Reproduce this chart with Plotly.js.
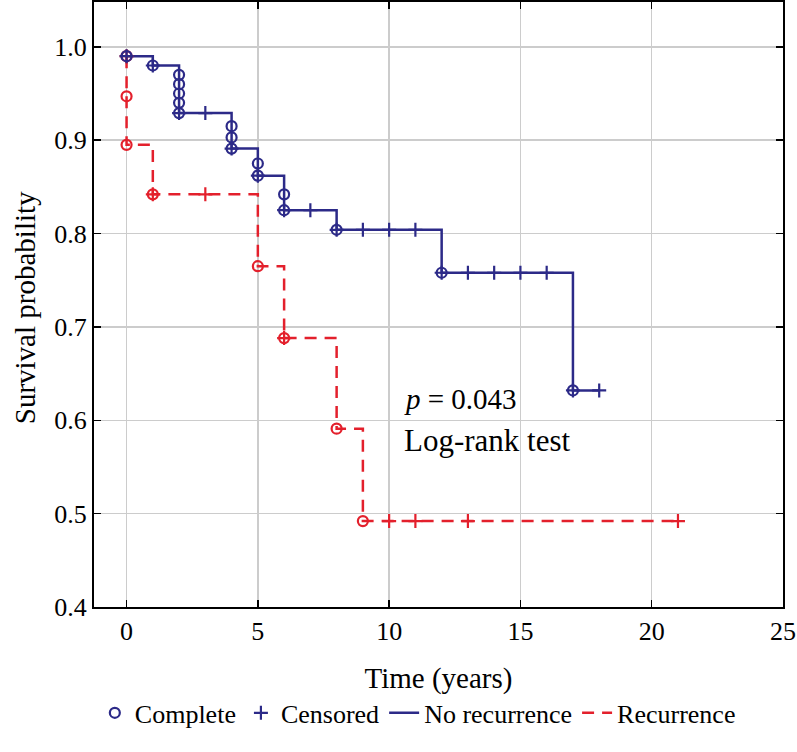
<!DOCTYPE html>
<html><head><meta charset="utf-8">
<script src="https://cdn.plot.ly/plotly-3.0.1.min.js"></script>
<style>body{margin:0;background:#fff}</style>
</head><body>
<div id="chart" style="width:797px;height:752px"></div>
<script>
// No recurrence (blue) step curve
const noRecStepT = [0, 1, 2, 4, 5, 6, 8, 12, 17, 18];
const noRecStepS = [0.990, 0.980, 0.929, 0.891, 0.862, 0.825, 0.804, 0.758, 0.632, 0.632];
// No recurrence complete events (circles)
const noRecEventT = [0, 1, 2, 2, 2, 2, 2, 4, 4, 4, 5, 5, 6, 6, 8, 12, 17];
const noRecEventS = [0.990, 0.980, 0.970, 0.960, 0.950, 0.940, 0.929, 0.915, 0.903, 0.891, 0.875, 0.862, 0.842, 0.825, 0.804, 0.758, 0.632];
// No recurrence plus marks
const noRecCensT = [0, 1, 2, 3, 4, 5, 6, 7, 8, 9, 10, 11, 12, 13, 14, 15, 16, 17, 18];
const noRecCensS = [0.990, 0.980, 0.929, 0.929, 0.891, 0.862, 0.825, 0.825, 0.804, 0.804, 0.804, 0.804, 0.758, 0.758, 0.758, 0.758, 0.758, 0.632, 0.632];

// Recurrence (red) step curve
const recStepT = [0, 0, 0, 1, 5, 6, 8, 9, 21];
const recStepS = [0.990, 0.947, 0.895, 0.842, 0.765, 0.688, 0.591, 0.492, 0.492];
// Recurrence complete events
const recEventT = [0, 0, 0, 1, 5, 6, 8, 9];
const recEventS = [0.990, 0.947, 0.895, 0.842, 0.765, 0.688, 0.591, 0.492];
// Recurrence plus marks
const recCensT = [0, 1, 3, 6, 10, 11, 13, 21];
const recCensS = [0.990, 0.842, 0.842, 0.688, 0.492, 0.492, 0.492, 0.492];

const xTicks = [0, 5, 10, 15, 20, 25];
const yTicks = [0.4, 0.5, 0.6, 0.7, 0.8, 0.9, 1.0];

const BLUE = '#2c2a88';
const RED = '#e3202c';
const FONT = '"Liberation Serif", "Times New Roman", serif';

const traces = [
  {x: recStepT, y: recStepS, mode: 'lines', line: {shape: 'hv', color: RED, width: 2.5, dash: '12px,8px'},
   name: 'Recurrence', legendrank: 4},
  {x: noRecStepT, y: noRecStepS, mode: 'lines', line: {shape: 'hv', color: BLUE, width: 2.5},
   name: 'No recurrence', legendrank: 3},
  {x: recEventT, y: recEventS, mode: 'markers', showlegend: false,
   marker: {symbol: 'circle-open', size: 10, color: RED, line: {width: 2.2, color: RED}}},
  {x: recCensT, y: recCensS, mode: 'markers', showlegend: false,
   marker: {symbol: 'cross-thin-open', size: 10, color: RED, line: {width: 2.2, color: RED}}},
  {x: noRecEventT, y: noRecEventS, mode: 'markers', name: 'Complete', legendrank: 1,
   marker: {symbol: 'circle-open', size: 10, color: BLUE, line: {width: 2.2, color: BLUE}}},
  {x: noRecCensT, y: noRecCensS, mode: 'markers', name: 'Censored', legendrank: 2,
   marker: {symbol: 'cross-thin-open', size: 10, color: BLUE, line: {width: 2.2, color: BLUE}}}
];

const axisCommon = {
  showline: true, linecolor: '#000', linewidth: 2, mirror: 'ticks',
  ticks: 'inside', ticklen: 7, tickwidth: 1.5, tickcolor: '#000',
  showgrid: true, gridcolor: '#cccccc', gridwidth: 1.5, zeroline: false,
  tickfont: {family: FONT, size: 26, color: '#000'}
};

const layout = {
  width: 797, height: 752,
  margin: {l: 94, r: 14, t: 2, b: 145},
  paper_bgcolor: '#fff', plot_bgcolor: '#fff',
  font: {family: FONT, color: '#000'},
  showlegend: true,
  legend: {orientation: 'h', x: 0.47, xanchor: 'center', y: -0.175, yanchor: 'middle',
           font: {family: FONT, size: 26, color: '#000'}, itemwidth: 30, tracegroupgap: 0,
           traceorder: 'normal'},
  xaxis: Object.assign({}, axisCommon, {
    range: [-1.24, 25], tickvals: xTicks, ticktext: xTicks.map(String),
    title: {text: 'Time (years)', font: {family: FONT, size: 29, color: '#000'}, standoff: 22}
  }),
  yaxis: Object.assign({}, axisCommon, {
    range: [0.4, 1.048], tickvals: yTicks, ticktext: yTicks.map(v => v.toFixed(1))
  }),
  annotations: [
    {x: -0.1, y: 0.494, xref: 'paper', yref: 'paper', xanchor: 'center', yanchor: 'middle',
     showarrow: false, textangle: -90,
     text: 'Survival probability', font: {family: FONT, size: 29, color: '#000'}},
    {x: 10.5, y: 0.6225, xref: 'x', yref: 'y', xanchor: 'left', yanchor: 'middle', showarrow: false,
     text: '<i>p</i> = 0.043', font: {family: FONT, size: 29, color: '#000'}},
    {x: 10.5, y: 0.578, xref: 'x', yref: 'y', xanchor: 'left', yanchor: 'middle', showarrow: false,
     text: 'Log-rank test', font: {family: FONT, size: 31, color: '#000'}}
  ]
};

Plotly.newPlot('chart', traces, layout, {displayModeBar: false, staticPlot: true});
</script>
</body></html>
